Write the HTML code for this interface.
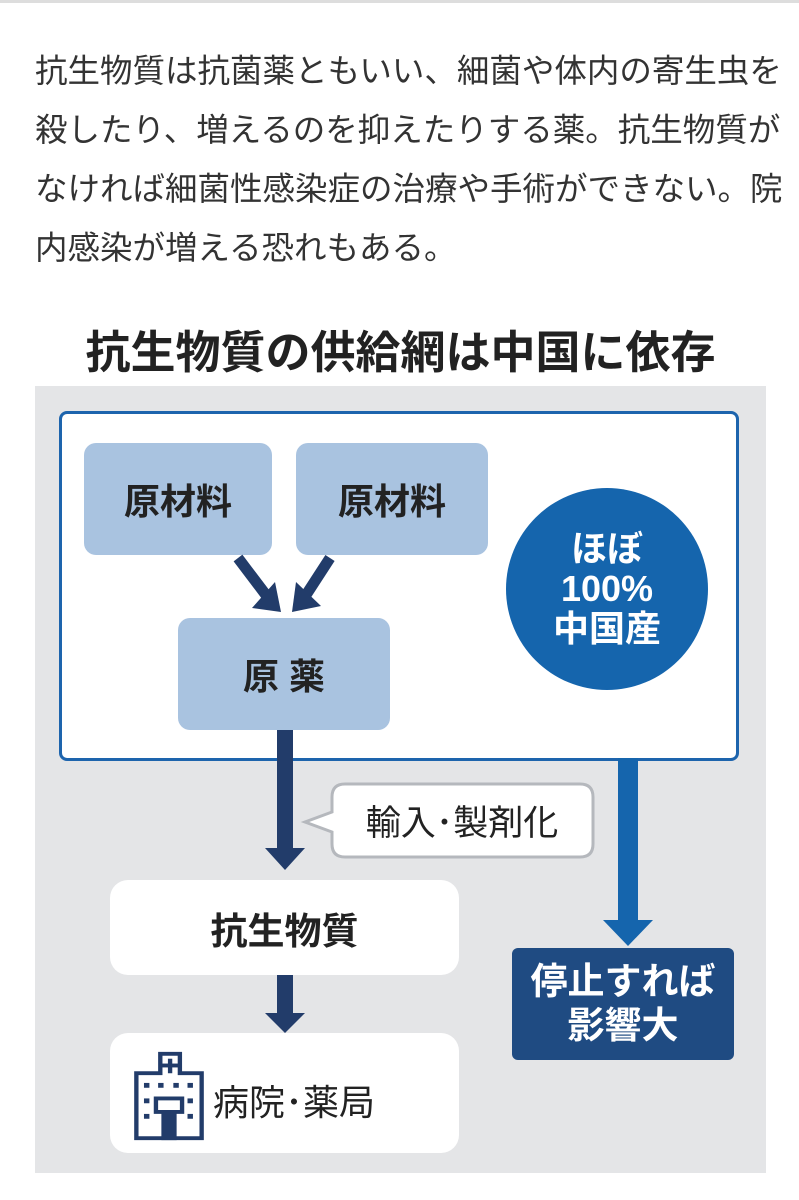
<!DOCTYPE html>
<html><head><meta charset="utf-8"><style>
body{margin:0;width:799px;height:1200px;background:#fff;position:relative;overflow:hidden;font-family:"Liberation Sans","Noto Sans CJK JP",sans-serif;}
.a{position:absolute;}
.p{left:35px;top:42px;font-size:32.5px;line-height:59px;color:#333;width:760px;white-space:nowrap}
.box{position:absolute;display:flex;align-items:center;justify-content:center;font-weight:bold;color:#222;}
.lb{background:#a9c3e0;border-radius:12px;font-size:36px;}
.wb{background:#fff;border-radius:18px;}
</style></head><body>
<div class="a" style="left:0;top:0;width:799px;height:3px;background:#ddd"></div>
<div class="a p">抗生物質は抗菌薬ともいい、細菌や体内の寄生虫を<br>殺したり、増えるのを抑えたりする薬。抗生物質が<br>なければ細菌性感染症の治療や手術ができない。院<br>内感染が増える恐れもある。</div>
<div class="a" style="left:35px;top:318px;width:731px;text-align:center;font-size:45px;font-weight:bold;color:#222;line-height:70px">抗生物質の供給網は中国に依存</div>
<div class="a" style="left:35px;top:386px;width:731px;height:787px;background:#e4e5e7"></div>
<div class="a" style="left:59px;top:411px;width:674px;height:344px;background:#fff;border:3px solid #1d64ad;border-radius:8px"></div>
<div class="box lb" style="left:84px;top:443px;width:188px;height:112px">原材料</div>
<div class="box lb" style="left:296px;top:443px;width:192px;height:112px">原材料</div>
<div class="box lb" style="left:178px;top:618px;width:212px;height:112px">原&nbsp;薬</div>
<div class="box" style="left:506px;top:488px;width:202px;height:202px;border-radius:50%;background:#1565ad;color:#fff;font-size:36px;line-height:40px;text-align:center">ほぼ<br>100%<br>中国産</div>
<svg class="a" style="left:0;top:0" width="799" height="1200">
<g fill="#223c6a" stroke="#223c6a">
<line x1="238" y1="558" x2="266" y2="595" stroke-width="11"/>
<polygon points="252,608 281,612 275,582" stroke="none"/>
<line x1="330" y1="558" x2="306" y2="595" stroke-width="11"/>
<polygon points="292,612 321,606 296,582" stroke="none"/>
<rect x="277" y="730" width="16" height="120" stroke="none"/>
<polygon points="265,848 305,848 285,870" stroke="none"/>
<rect x="277" y="975" width="16" height="40" stroke="none"/>
<polygon points="265,1013 305,1013 285,1033" stroke="none"/>
</g>
<rect x="618" y="758" width="20" height="165" fill="#1565ad"/>
<polygon points="603,920 653,920 628,946" fill="#1565ad"/>
<path d="M345,784 H580 Q593,784 593,797 V844 Q593,857 580,857 H345 Q332,857 332,844 V832 L305,822 L332,812 V797 Q332,784 345,784 Z" fill="#fff" stroke="#b5b8bd" stroke-width="3"/>
<text x="462" y="835" font-size="35" text-anchor="middle" fill="#222" font-family="Liberation Sans, Noto Sans CJK JP, sans-serif">輸入･製剤化</text>
</svg>
<div class="box wb" style="left:110px;top:880px;width:349px;height:95px;font-size:37px">抗生物質</div>
<div class="box wb" style="left:110px;top:1033px;width:349px;height:120px"></div>
<svg class="a" style="left:132px;top:1050px" width="74" height="92" viewBox="0 0 68 95" preserveAspectRatio="none">
<g fill="#223c6a">
<path d="M24,2 H46 V22 H66 V93 H2 V22 H24 Z M28,6 V26 H6 V89 H62 V26 H42 V6 Z" fill-rule="evenodd"/>
<rect x="33" y="9" width="4" height="15"/><rect x="27" y="14" width="16" height="4"/>
<rect x="11" y="34" width="5" height="5"/><rect x="24" y="34" width="5" height="5"/><rect x="38" y="34" width="5" height="5"/><rect x="51" y="34" width="5" height="5"/>
<rect x="11" y="50" width="5" height="5"/><rect x="51" y="50" width="5" height="5"/>
<rect x="11" y="66" width="5" height="5"/><rect x="51" y="66" width="5" height="5"/>
<path d="M20,48 H48 V66 H41 V93 H27 V66 H20 Z M24,52 V62 H44 V52 Z" fill-rule="evenodd"/>
</g></svg>
<div class="a" style="left:213px;top:1078px;font-size:36px;color:#222;line-height:50px">病院･薬局</div>
<div class="box" style="left:512px;top:948px;width:222px;height:112px;background:#1f4b82;border-radius:6px;color:#fff;font-size:37px;line-height:44px;text-align:center">停止すれば<br>影響大</div>
</body></html>
